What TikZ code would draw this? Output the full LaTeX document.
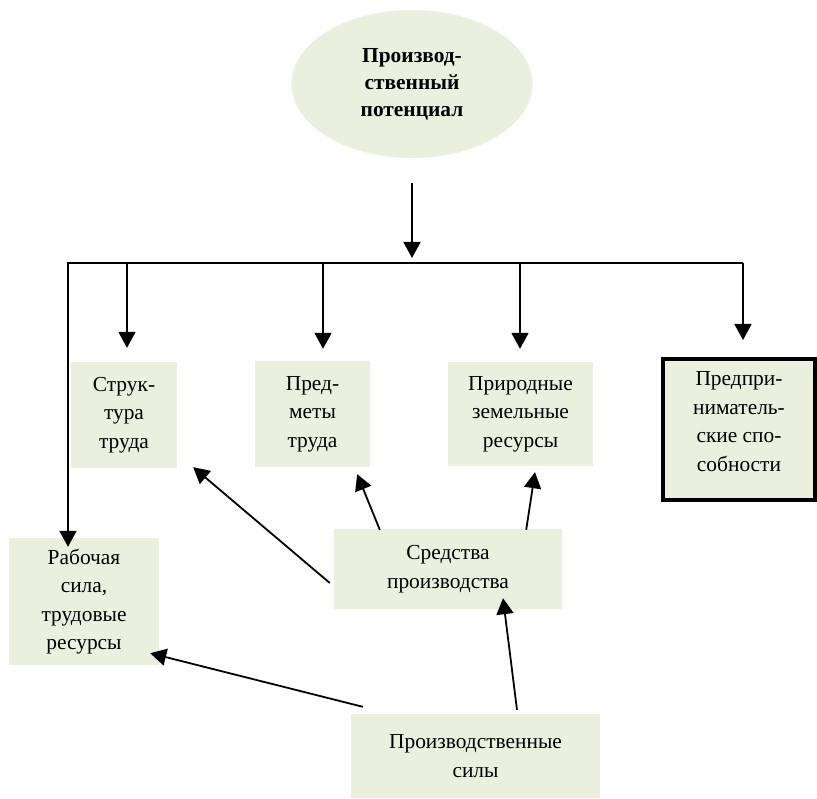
\documentclass[tikz,border=0pt]{standalone}
\usepackage{fontspec}
\setmainfont{Liberation Serif}
\usetikzlibrary{shapes.geometric,arrows.meta,calc}
\definecolor{boxgreen}{RGB}{234,239,222}
\tikzset{
	box/.style={fill=boxgreen, inner sep=0pt, align=center, font=\fontsize{21.4}{28.5}\selectfont},
	arr/.style={line width=1.8pt, -{Triangle[length=16pt,width=17pt]}},
}
\begin{document}
	\begin{tikzpicture}[x=1pt,y=-1pt]
		\useasboundingbox (0,0) rectangle (817,799);
		
		% Top ellipse
		\node[box, ellipse, minimum width=241pt, minimum height=148pt, font=\bfseries\fontsize{21.4}{27}\selectfont] (pot) at (412,84) {Производ-\\ственный\\потенциал};
		
		% Boxes of the second row
		\node[box, minimum width=106pt, minimum height=106pt] (strukt) at (124,415) {Струк-\\тура\\труда};
		\node[box, minimum width=115pt, minimum height=106pt] (predm) at (312.5,414) {Пред-\\меты\\труда};
		\node[box, minimum width=145pt, minimum height=104pt] (prir) at (520.5,414) {Природные\\земельные\\ресурсы};
		\node[box, draw, line width=4pt, minimum width=152pt, minimum height=141pt] (predpr) at (739,429.5) {Предпри-\\ниматель-\\ские спо-\\собности\\[-12pt]};
		
		% Lower boxes
		\node[box, minimum width=150pt, minimum height=127pt] (rab) at (84,601.5) {Рабочая\\сила,\\трудовые\\ресурсы};
		\node[box, minimum width=228pt, minimum height=80pt] (sred) at (448,569) {Средства\\производства};
		\node[box, minimum width=249pt, minimum height=84pt] (sily) at (475.5,756) {Производственные\\силы};
		
		% Bus line
		\coordinate (busL) at (67,263);
		\coordinate (busR) at (743,263);
		\coordinate (busM) at (412,263);
		\draw[line width=1.8pt] (busL) -- (busR);
		\draw[arr, shorten <=25pt, shorten >=5pt] (pot.south) -- (busM);
		
		\foreach \x/\n/\s in {68/rab/-9, 127/strukt/14, 323/predm/12, 520/prir/13, 743/predpr/17}{
			\coordinate (b\n) at (\x,263);
			\draw[arr, shorten >=\s pt] (b\n) -- (b\n |- \n.north);
		}
		
		% Arrows between boxes
		\draw[arr] ($(sred.west)+(-4,14)$) -- ($(strukt.south east)+(16,-1)$);
		\draw[arr] ($(sred.north west)+(46,1)$) -- ($(predm.south east)+(-13,7)$);
		\draw[arr] ($(sred.north east)+(-36,1)$) -- ($(prir.south)+(14.5,6)$);
		\draw[arr] ($(sily.north)+(41.5,-4)$) -- ($(sred.south)+(55,-11)$);
		\draw[arr] ($(sily.north west)+(12,-7)$) -- ($(rab.south east)+(-9,-12)$);
		
	\end{tikzpicture}
\end{document}
